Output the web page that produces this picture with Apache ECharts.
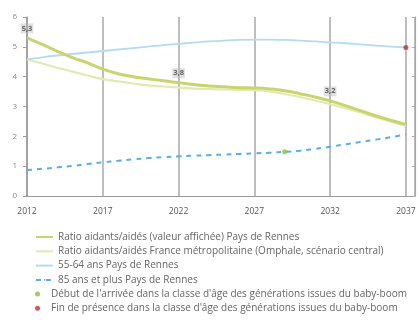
<!DOCTYPE html>
<html lang="fr" style="height: 100%">
<head>
    <meta charset="UTF-8">
    <title>Ratio aidants/aidés</title>
    <script src="https://cdn.jsdelivr.net/npm/echarts@6/dist/echarts.min.js"></script>
</head>
<body style="height: 100%; margin: 0; background: #fff">
<div id="container" style="width: 419px; height: 320px"></div>
<script type="text/javascript">
    var dom = document.getElementById("container");
    var myChart = echarts.init(dom);

    // années 2012 -> 2037
    var years = [];
    for (var y = 2012; y <= 2037; y++) years.push(y);

    var ratioRennes = [5.3, 5.08, 4.85, 4.64, 4.46, 4.25, 4.1, 4.0, 3.93, 3.86, 3.8,
        3.74, 3.69, 3.66, 3.63, 3.62, 3.59, 3.53, 3.43, 3.32, 3.19, 3.03, 2.86, 2.69, 2.54, 2.4];
    var ratioFrance = [4.58, 4.44, 4.3, 4.17, 4.04, 3.92, 3.84, 3.77, 3.71, 3.67, 3.63,
        3.6, 3.58, 3.57, 3.56, 3.55, 3.5, 3.42, 3.32, 3.2, 3.08, 2.94, 2.8, 2.64, 2.49, 2.35];
    var pop5564 = [45800, 46500, 47100, 47600, 48100, 48600, 49100, 49600, 50100, 50600, 51000,
        51400, 51800, 52100, 52300, 52400, 52400, 52300, 52100, 51800, 51500, 51200, 50800, 50400, 50100, 49800];
    var pop85 = [8700, 9100, 9600, 10100, 10700, 11300, 11800, 12300, 12700, 13000, 13300,
        13500, 13700, 13900, 14100, 14300, 14500, 14800, 15200, 15800, 16500, 17300, 18100, 18900, 19700, 20700];
    var labelYears = [2012, 2022, 2032];
    var debutYear = 2029;   // marqueur vert sur 85 ans et plus
    var finYear = 2037;     // marqueur rouge sur 55-64 ans

    var names = [
        'Ratio aidants/aidés (valeur affichée) Pays de Rennes',
        'Ratio aidants/aidés France métropolitaine (Omphale, scénario central)',
        '55-64 ans Pays de Rennes',
        '85 ans et plus Pays de Rennes',
        "Début de l'arrivée dans la classe d'âge des générations issues du baby-boom",
        "Fin de présence dans la classe d'âge des générations issues du baby-boom"
    ];

    function pairs(arr) {
        return arr.map(function (v, i) { return [years[i], v]; });
    }

    var labelData = labelYears.map(function (yr) {
        return [yr, ratioRennes[years.indexOf(yr)]];
    });

    var legendText = {color: '#666', fontSize: 10, lineHeight: 10};

    var option = {
        animation: false,
        textStyle: {fontFamily: 'Open Sans'},
        grid: {left: 27, right: 4, top: 17, bottom: 124},
        xAxis: {
            type: 'value',
            min: 2012,
            max: 2037.6,
            interval: 5,
            axisLine: {show: true, lineStyle: {color: '#9a9a9a', width: 1.2}},
            axisTick: {show: false},
            splitLine: {show: true, lineStyle: {color: '#a8a8a8', width: 1.5}},
            axisLabel: {
                color: '#555', fontSize: 8.5, margin: 11, showMaxLabel: false,
                formatter: function (v) { return (v % 1 === 0) ? String(v) : ''; }
            }
        },
        yAxis: [{
            type: 'value',
            min: 0, max: 6, interval: 1,
            axisLine: {show: true, lineStyle: {color: '#9a9a9a', width: 1.5}},
            axisTick: {show: true, length: 4, lineStyle: {color: '#9a9a9a'}},
            splitLine: {show: false},
            axisLabel: {color: '#888', fontSize: 8, margin: 10}
        }, {
            type: 'value',
            min: 0, max: 60000, interval: 10000,
            position: 'right',
            axisLine: {show: true, lineStyle: {color: '#a8a8a8', width: 1.2}},
            axisTick: {show: true, inside: true, length: 3, lineStyle: {color: '#a8a8a8'}},
            splitLine: {show: false},
            axisLabel: {show: false}
        }],
        legend: [{
            orient: 'vertical',
            left: 35,
            top: 232,
            padding: 0,
            itemWidth: 17,
            itemHeight: 2,
            itemGap: 4.3,
            textStyle: legendText,
            data: names.slice(0, 4)
        }, {
            orient: 'vertical',
            left: 35,
            top: 289,
            padding: 0,
            itemWidth: 17,
            itemHeight: 5,
            itemGap: 4.3,
            textStyle: legendText,
            data: names.slice(4)
        }],
        series: [{
            name: names[0],
            type: 'line',
            data: pairs(ratioRennes),
            symbol: 'none',
            smooth: true,
            lineStyle: {color: '#c8d56e', width: 3},
            itemStyle: {color: '#c8d56e'},
            z: 4
        }, {
            name: names[1],
            type: 'line',
            data: pairs(ratioFrance),
            symbol: 'none',
            smooth: true,
            lineStyle: {color: '#e2eab0', width: 2.2},
            itemStyle: {color: '#e2eab0'},
            z: 3
        }, {
            name: names[2],
            type: 'line',
            yAxisIndex: 1,
            data: pairs(pop5564),
            symbol: 'none',
            smooth: true,
            lineStyle: {color: '#b5dbf0', width: 1.8},
            itemStyle: {color: '#b5dbf0'}
        }, {
            name: names[3],
            type: 'line',
            yAxisIndex: 1,
            data: pairs(pop85),
            symbol: 'none',
            smooth: true,
            lineStyle: {color: '#5aaee0', width: 2, type: [5, 5]},
            itemStyle: {color: '#5aaee0'}
        }, {
            name: names[4],
            type: 'scatter',
            yAxisIndex: 1,
            data: [[debutYear, pop85[years.indexOf(debutYear)]]],
            symbolSize: 5,
            itemStyle: {color: '#8bbf3a'},
            z: 5
        }, {
            name: names[5],
            type: 'scatter',
            yAxisIndex: 1,
            data: [[finYear, pop5564[years.indexOf(finYear)]]],
            symbolSize: 5,
            itemStyle: {color: '#b8342c'},
            z: 5
        }, {
            // étiquettes de valeur sur le ratio Pays de Rennes
            name: 'labels',
            type: 'scatter',
            data: labelData,
            symbolSize: 1,
            itemStyle: {color: 'rgba(0,0,0,0)'},
            silent: true,
            z: 6,
            label: {
                show: true, position: 'top', distance: 4,
                color: '#444', fontSize: 7.5, fontWeight: 'bold',
                backgroundColor: 'rgba(185,185,185,0.55)', padding: [1, 1],
                formatter: function (p) { return p.value[1].toFixed(1).replace('.', ','); }
            }
        }]
    };

    myChart.setOption(option);
</script>
</body>
</html>
